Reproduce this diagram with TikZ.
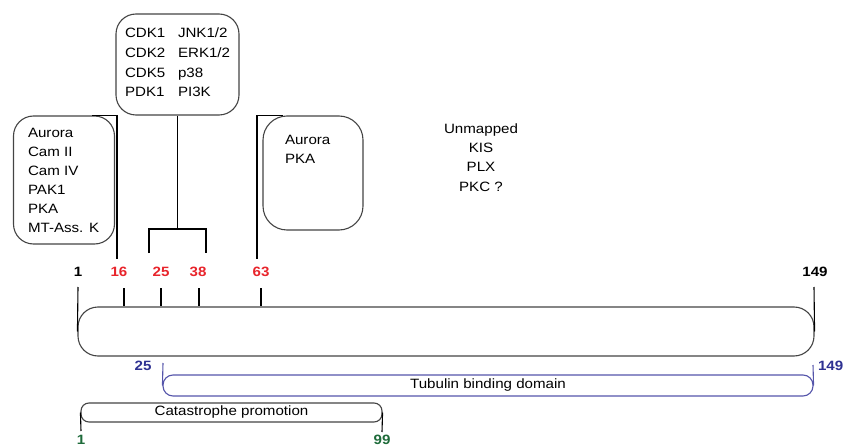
\documentclass[tikz,border=0pt]{standalone}
\usepackage{fontspec}
\setmainfont{Liberation Sans}[FakeStretch=1.12]
\definecolor{nred}{HTML}{E8242B}
\definecolor{nblue}{HTML}{2E3192}
\definecolor{lblue}{HTML}{5555AA}
\definecolor{ngreen}{HTML}{1E6B3A}
\definecolor{outl}{HTML}{444444}
\begin{document}
\begin{tikzpicture}[x=1pt,y=-1pt,
  every node/.style={font=\fontsize{13.5}{16}\selectfont},
  txt/.style={inner sep=0pt, outer sep=0pt, anchor=base west},
  ctxt/.style={inner sep=0pt, outer sep=0pt, anchor=base},
  num/.style={inner sep=0pt, outer sep=0pt, anchor=base, font=\fontsize{13.5}{16}\selectfont\bfseries},
  kbox/.style={draw=outl, line width=1.1pt, inner sep=0pt},
  conn/.style={draw=black, line width=1.1pt},
]
\useasboundingbox (0,0) rectangle (845,446);

% kinase boxes
\node[kbox, minimum width=101pt, minimum height=128pt, rounded corners=20pt] (lbox) at (64,180) {};
\node[kbox, minimum width=123pt, minimum height=101pt, rounded corners=20pt] (tbox) at (177.5,64.5) {};
\node[kbox, minimum width=100pt, minimum height=114pt, rounded corners=24pt] (rbox) at (313,173) {};

% left box text
\node[txt] (la) at (28,138) {Aurora};
\node[txt] (lb) at (28,157) {Cam II};
\node[txt] (lc) at (28,176) {Cam IV};
\node[txt] (ld) at (28,195) {PAK1};
\node[txt] (le) at (28,214) {PKA};
\node[txt] (lf) at (28,233) {MT-Ass. K};

% top box text
\node[txt] (ta1) at (125,38) {CDK1};
\node[txt] (ta2) at (125,58) {CDK2};
\node[txt] (ta3) at (125,78) {CDK5};
\node[txt] (ta4) at (125,97) {PDK1};
\node[txt] (tb1) at (178,38) {JNK1/2};
\node[txt] (tb2) at (178,58) {ERK1/2};
\node[txt] (tb3) at (178,78) {p38};
\node[txt] (tb4) at (178,97) {PI3K};

% right box text
\node[txt] (ra) at (285,145) {Aurora};
\node[txt] (rb) at (285,164) {PKA};

% unmapped
\node[ctxt] (ua) at (481,134) {Unmapped};
\node[ctxt] (ub) at (481,153) {KIS};
\node[ctxt] (uc) at (481,172) {PLX};
\node[ctxt] (ud) at (481,192) {PKC ?};

% connectors from boxes
\coordinate (l16) at (117,259);
\draw[conn] ([xshift=28pt]lbox.north) -| (l16);
\coordinate (br) at (177.5,229);
\coordinate (b25) at (149,253);
\coordinate (b38) at (206,253);
\draw[conn] (tbox.south) -- (br);
\draw[conn] (b25) |- (br) -| (b38);
\coordinate (r63) at (257,259);
\draw[conn] ([xshift=-30pt]rbox.north) -| (r63);

% position labels
\node[num] (n1) at (78,276) {1};
\node[num, text=nred] (n16) at (119,276) {16};
\node[num, text=nred] (n25) at (161,276) {25};
\node[num, text=nred] (n38) at (198,276) {38};
\node[num, text=nred] (n63) at (261,276) {63};
\node[num] (n149) at (815,276) {149};

% main bar
\node[draw=outl, line width=1.1pt, minimum width=736pt, minimum height=49pt, rounded corners=20pt, inner sep=0pt] (bar) at (446,331.5) {};
\coordinate (p1) at (78,287);
\coordinate (p149) at (814,287);
\draw[conn] (p1) -- (bar.west);
\draw[conn] (p149) -- (bar.east);
\coordinate (p16) at (124,288);
\coordinate (p25) at (161,288);
\coordinate (p38) at (199,288);
\coordinate (p63) at (261,288);
\draw[conn] (p16) -- (p16 |- bar.north);
\draw[conn] (p25) -- (p25 |- bar.north);
\draw[conn] (p38) -- (p38 |- bar.north);
\draw[conn] (p63) -- (p63 |- bar.north);

% tubulin binding domain
\node[draw=lblue, line width=1.1pt, minimum width=650pt, minimum height=21pt, rounded corners=10pt, inner sep=0pt] (tub) at (488,385.5) {Tubulin binding domain};
\coordinate (t25) at (163,363);
\coordinate (t149) at (813,365);
\draw[draw=lblue, line width=1.1pt] (t25) -- (tub.west);
\draw[draw=lblue, line width=1.1pt] (t149) -- (tub.east);
\node[num, text=nblue] (bn25) at (143,370) {25};
\node[num, text=nblue, anchor=base west] (bn149) at (818,370) {149};

% catastrophe promotion
\node[draw=outl, line width=1.1pt, minimum width=301pt, minimum height=19pt, rounded corners=8pt, inner sep=0pt] (cat) at (231.5,412.5) {Catastrophe promotion};
\coordinate (c1) at (81,431);
\coordinate (c99) at (382,432);
\draw[conn] (c1) -- (cat.west);
\draw[conn] (c99) -- (cat.east);
\node[num, text=ngreen] (g1) at (81,444.5) {1};
\node[num, text=ngreen] (g99) at (382,444.5) {99};
\end{tikzpicture}
\end{document}
